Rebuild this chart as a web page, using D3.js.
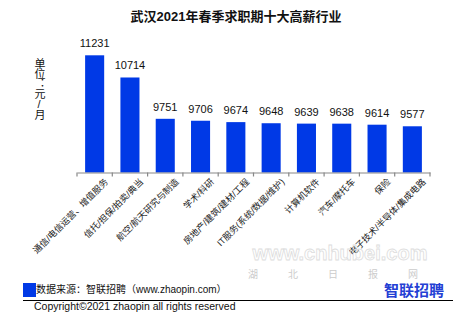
<!DOCTYPE html>
<html>
<head>
<meta charset="utf-8">
<script src="https://cdn.jsdelivr.net/npm/d3@7"></script>
<style>
  body { margin: 0; background: #fff; }
  svg { display: block; font-family: "Liberation Sans", "Noto Sans CJK SC", sans-serif; }
</style>
</head>
<body>
<svg id="chart" width="470" height="322"></svg>
<script>
// data
const industries = [
    "通信/电信运营、增值服务",
    "信托/担保/拍卖/典当",
    "航空/航天研究与制造",
    "学术/科研",
    "房地产/建筑/建材/工程",
    "IT服务(系统/数据/维护)",
    "计算机软件",
    "汽车/摩托车",
    "保险",
    "电子技术/半导体/集成电路"
];
const salaries = [11231, 10714, 9751, 9706, 9674, 9648, 9639, 9638, 9614, 9577];

const blue = "#0039e6";
const svg = d3.select("#chart");

// title
svg.append("text")
    .attr("x", 236).attr("y", 21)
    .attr("text-anchor", "middle")
    .attr("font-size", 13).attr("font-weight", "bold")
    .attr("fill", "#111")
    .text("武汉2021年春季求职期十大高薪行业");

// scales
const x = d3.scaleBand()
    .domain(industries)
    .range([77, 430])
    .paddingInner(0.46)
    .paddingOuter(0.23);

const y = d3.scaleLinear()
    .domain([8500, 12000])
    .range([172.5, 22.3]);

const data = industries.map((name, i) => ({name, value: salaries[i]}));

// bars
svg.append("g").selectAll("rect")
    .data(data)
    .enter().append("rect")
    .attr("x", d => x(d.name))
    .attr("y", d => y(d.value))
    .attr("width", x.bandwidth())
    .attr("height", d => y.range()[0] - y(d.value))
    .attr("fill", blue);

// value labels
svg.append("g").selectAll("text")
    .data(data)
    .enter().append("text")
    .attr("x", d => x(d.name) + x.bandwidth() / 2)
    .attr("y", d => y(d.value) - 8)
    .attr("text-anchor", "middle")
    .attr("font-size", 11)
    .attr("fill", "#111")
    .text(d => d.value);

// x axis
const axisG = svg.append("g")
    .attr("transform", `translate(0,${y.range()[0]})`)
    .call(d3.axisBottom(x).tickSize(0).tickFormat(""));
axisG.select(".domain").attr("stroke", "#888").attr("stroke-width", 1.2);

// boundary ticks
const step = x.step();
const bounds = d3.range(industries.length + 1).map(i => x.range()[0] + i * step);
axisG.selectAll(".bound")
    .data(bounds)
    .enter().append("line")
    .attr("class", "bound")
    .attr("x1", d => d).attr("x2", d => d)
    .attr("y1", 0).attr("y2", 4)
    .attr("stroke", "#888").attr("stroke-width", 1.2);

// rotated category labels
svg.append("g").selectAll("text")
    .data(industries)
    .enter().append("text")
    .attr("transform", d => `translate(${x(d) + x.bandwidth() / 2 + 14},${y.range()[0] + 10}) rotate(-45)`)
    .attr("text-anchor", "end")
    .attr("font-size", 9)
    .attr("fill", "#222")
    .text(d => d);

// y unit label, vertical
svg.append("text")
    .attr("x", 39).attr("y", 58)
    .attr("font-size", 11)
    .attr("fill", "#111")
    .style("writing-mode", "vertical-rl")
    .style("text-orientation", "upright")
    .style("letter-spacing", "-1px")
    .text("单位：元/月");

// faint watermark
svg.append("text")
    .attr("x", 340).attr("y", 260)
    .attr("text-anchor", "middle")
    .attr("font-size", 20).attr("font-weight", "bold")
    .attr("fill", "none").attr("stroke", "#ddd").attr("stroke-width", 0.8)
    .text("www.cnhubei.com");
svg.append("text")
    .attr("x", 348).attr("y", 278)
    .attr("text-anchor", "middle")
    .attr("font-size", 10)
    .attr("fill", "#ccc")
    .attr("letter-spacing", 30)
    .text("湖北日报网");

// source legend
svg.append("rect")
    .attr("x", 23).attr("y", 283)
    .attr("width", 13).attr("height", 14)
    .attr("fill", blue);
svg.append("text")
    .attr("x", 36).attr("y", 293)
    .attr("font-size", 10)
    .attr("fill", "#111")
    .text("数据来源：智联招聘（www.zhaopin.com）");

// logo
svg.append("text")
    .attr("x", 414).attr("y", 296)
    .attr("text-anchor", "middle")
    .attr("font-size", 15).attr("font-weight", "bold")
    .attr("fill", "#2440d4")
    .text("智联招聘");

// rule and copyright
svg.append("line")
    .attr("x1", 23).attr("x2", 453)
    .attr("y1", 300.5).attr("y2", 300.5)
    .attr("stroke", "#000").attr("stroke-width", 1);
svg.append("text")
    .attr("x", 34).attr("y", 310)
    .attr("font-size", 10.5)
    .attr("fill", "#111")
    .text("Copyright©2021 zhaopin all rights reserved");
</script>
</body>
</html>
